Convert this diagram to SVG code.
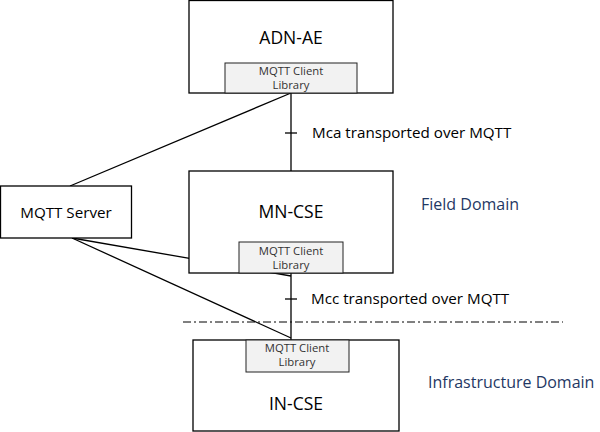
<svg xmlns="http://www.w3.org/2000/svg" width="600" height="432" viewBox="0 0 600 432">
<style>
.box{fill:#fff;stroke:#000;stroke-width:1.3}
.lib{fill:#f2f2f2;stroke:#222;stroke-width:1}
.ln{stroke:#000;stroke-width:1.3;fill:none}
text{font-family:"Open Sans","Noto Sans",sans-serif;fill:#000}
.big{font-size:17.5px}
.lbl{font-size:15.2px}
.small{font-size:11.3px;fill:#333}
.dom{font-size:16px;fill:#1f3864}
</style>
<rect width="600" height="432" fill="#fff"/>
<g id="connectors">
<line class="ln" x1="70" y1="186" x2="291" y2="93"/>
<line class="ln" x1="72" y1="238" x2="291" y2="276"/>
<line class="ln" x1="72" y1="238" x2="291" y2="338"/>
<line class="ln" x1="291" y1="93" x2="291" y2="171"/>
<line class="ln" x1="285" y1="133" x2="297" y2="133"/>
<line class="ln" x1="291" y1="273" x2="291" y2="340"/>
<line class="ln" x1="285" y1="299" x2="297" y2="299"/>
<line x1="183" y1="322" x2="563" y2="322" stroke="#000" stroke-width="1" stroke-dasharray="8,3,2,3"/>
</g>
<text class="lbl" x="312" y="138">Mca transported over MQTT</text>
<text class="lbl" x="311" y="304">Mcc transported over MQTT</text>
<text class="dom" x="421" y="210">Field Domain</text>
<text class="dom" x="428" y="388">Infrastructure Domain</text>
<g id="adn-ae">
<rect class="box" x="189" y="0.5" width="204" height="92.5"/>
<text class="big" x="291" y="44" text-anchor="middle">ADN-AE</text>
<g id="adn-lib">
<rect class="lib" x="225" y="63" width="132" height="30"/>
<text class="small" x="291" y="75" text-anchor="middle">MQTT Client</text>
<text class="small" x="291" y="89" text-anchor="middle">Library</text>
</g>
</g>
<g id="mn-cse">
<rect class="box" x="189" y="171" width="204" height="102"/>
<text class="big" x="291" y="218" text-anchor="middle">MN-CSE</text>
<g id="mn-lib">
<rect class="lib" x="239" y="242" width="104" height="31"/>
<text class="small" x="291" y="255" text-anchor="middle">MQTT Client</text>
<text class="small" x="291" y="269" text-anchor="middle">Library</text>
</g>
</g>
<g id="mqtt-server">
<rect class="box" x="0.5" y="186" width="131" height="52"/>
<text class="lbl" x="66" y="218" text-anchor="middle">MQTT Server</text>
</g>
<g id="in-cse">
<rect class="box" x="193" y="340" width="206" height="91"/>
<text class="big" x="296" y="410" text-anchor="middle">IN-CSE</text>
<g id="in-lib">
<rect class="lib" x="246" y="340" width="103" height="32"/>
<text class="small" x="297" y="352" text-anchor="middle">MQTT Client</text>
<text class="small" x="297" y="366" text-anchor="middle">Library</text>
</g>
</g>
</svg>
